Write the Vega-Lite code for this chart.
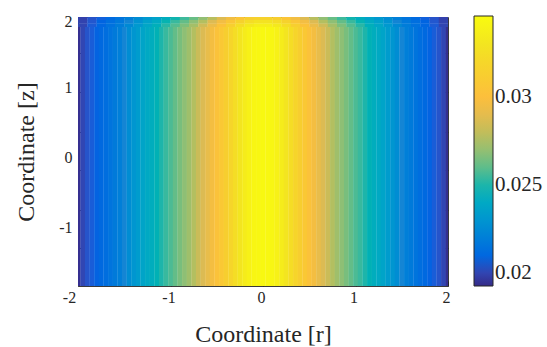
{
"$schema": "https://vega.github.io/schema/vega-lite/v6.json",
"width": 370, "height": 269,
"autosize": "none",
"padding": {"left": 78, "top": 17, "right": 99, "bottom": 61},
"background": "white",
"config": {
 "font": "Liberation Serif",
 "style": {"guide-label": {"font": "Liberation Serif", "fontSize": 16, "fill": "#262626"}, "guide-title": {"font": "Liberation Serif", "fontSize": 24, "fontWeight": "normal", "fill": "#262626"}},
 "view": {"stroke": "#3a3a3a", "strokeWidth": 1},
 "axis": {"labelFont": "Liberation Serif", "labelFontSize": 16, "labelColor": "#262626", "tickColor": "#262626", "tickWidth": 1, "domain": false, "grid": false, "titleFont": "Liberation Serif", "titleFontSize": 24, "titleFontWeight": "normal", "titleColor": "#262626"},
 "legend": {"orient": "none", "legendX": 396, "legendY": -1, "direction": "vertical", "gradientLength": 270, "gradientThickness": 19, "labelFont": "Liberation Serif", "labelFontSize": 21, "labelColor": "#262626", "labelOffset": 5, "gradientStrokeColor": "#262626", "gradientStrokeWidth": 1}
},
"datasets": {
"main": [
{"r":-2,"r2":-1.972,"z":-1.84,"z2":1.86,"v":0.01941},
{"r":-1.975,"r2":-1.922,"z":-1.84,"z2":1.86,"v":0.02003},
{"r":-1.925,"r2":-1.872,"z":-1.84,"z2":1.86,"v":0.02041},
{"r":-1.875,"r2":-1.822,"z":-1.84,"z2":1.86,"v":0.02064},
{"r":-1.825,"r2":-1.772,"z":-1.84,"z2":1.86,"v":0.02079},
{"r":-1.775,"r2":-1.722,"z":-1.84,"z2":1.86,"v":0.02102},
{"r":-1.725,"r2":-1.672,"z":-1.84,"z2":1.86,"v":0.02125},
{"r":-1.675,"r2":-1.622,"z":-1.84,"z2":1.86,"v":0.02148},
{"r":-1.625,"r2":-1.572,"z":-1.84,"z2":1.86,"v":0.02179},
{"r":-1.575,"r2":-1.522,"z":-1.84,"z2":1.86,"v":0.02202},
{"r":-1.525,"r2":-1.472,"z":-1.84,"z2":1.86,"v":0.02233},
{"r":-1.475,"r2":-1.422,"z":-1.84,"z2":1.86,"v":0.02263},
{"r":-1.425,"r2":-1.372,"z":-1.84,"z2":1.86,"v":0.02302},
{"r":-1.375,"r2":-1.322,"z":-1.84,"z2":1.86,"v":0.02333},
{"r":-1.325,"r2":-1.272,"z":-1.84,"z2":1.86,"v":0.02371},
{"r":-1.275,"r2":-1.222,"z":-1.84,"z2":1.86,"v":0.02402},
{"r":-1.225,"r2":-1.172,"z":-1.84,"z2":1.86,"v":0.02432},
{"r":-1.175,"r2":-1.122,"z":-1.84,"z2":1.86,"v":0.02463},
{"r":-1.125,"r2":-1.072,"z":-1.84,"z2":1.86,"v":0.02501},
{"r":-1.075,"r2":-1.022,"z":-1.84,"z2":1.86,"v":0.0254},
{"r":-1.025,"r2":-0.972,"z":-1.84,"z2":1.86,"v":0.0257},
{"r":-0.975,"r2":-0.922,"z":-1.84,"z2":1.86,"v":0.02609},
{"r":-0.925,"r2":-0.872,"z":-1.84,"z2":1.86,"v":0.02647},
{"r":-0.875,"r2":-0.822,"z":-1.84,"z2":1.86,"v":0.02685},
{"r":-0.825,"r2":-0.772,"z":-1.84,"z2":1.86,"v":0.02724},
{"r":-0.775,"r2":-0.722,"z":-1.84,"z2":1.86,"v":0.0277},
{"r":-0.725,"r2":-0.672,"z":-1.84,"z2":1.86,"v":0.02816},
{"r":-0.675,"r2":-0.622,"z":-1.84,"z2":1.86,"v":0.02862},
{"r":-0.625,"r2":-0.572,"z":-1.84,"z2":1.86,"v":0.02915},
{"r":-0.575,"r2":-0.522,"z":-1.84,"z2":1.86,"v":0.02969},
{"r":-0.525,"r2":-0.472,"z":-1.84,"z2":1.86,"v":0.03023},
{"r":-0.475,"r2":-0.422,"z":-1.84,"z2":1.86,"v":0.03077},
{"r":-0.425,"r2":-0.372,"z":-1.84,"z2":1.86,"v":0.0313},
{"r":-0.375,"r2":-0.322,"z":-1.84,"z2":1.86,"v":0.03184},
{"r":-0.325,"r2":-0.272,"z":-1.84,"z2":1.86,"v":0.03245},
{"r":-0.275,"r2":-0.222,"z":-1.84,"z2":1.86,"v":0.03299},
{"r":-0.225,"r2":-0.172,"z":-1.84,"z2":1.86,"v":0.03353},
{"r":-0.175,"r2":-0.122,"z":-1.84,"z2":1.86,"v":0.03391},
{"r":-0.125,"r2":-0.072,"z":-1.84,"z2":1.86,"v":0.03422},
{"r":-0.075,"r2":-0.022,"z":-1.84,"z2":1.86,"v":0.03434},
{"r":-0.025,"r2":0.028,"z":-1.84,"z2":1.86,"v":0.03437},
{"r":0.025,"r2":0.078,"z":-1.84,"z2":1.86,"v":0.03434},
{"r":0.075,"r2":0.128,"z":-1.84,"z2":1.86,"v":0.03422},
{"r":0.125,"r2":0.178,"z":-1.84,"z2":1.86,"v":0.03391},
{"r":0.175,"r2":0.228,"z":-1.84,"z2":1.86,"v":0.03353},
{"r":0.225,"r2":0.278,"z":-1.84,"z2":1.86,"v":0.03299},
{"r":0.275,"r2":0.328,"z":-1.84,"z2":1.86,"v":0.03245},
{"r":0.325,"r2":0.378,"z":-1.84,"z2":1.86,"v":0.03184},
{"r":0.375,"r2":0.428,"z":-1.84,"z2":1.86,"v":0.0313},
{"r":0.425,"r2":0.478,"z":-1.84,"z2":1.86,"v":0.03077},
{"r":0.475,"r2":0.528,"z":-1.84,"z2":1.86,"v":0.03023},
{"r":0.525,"r2":0.578,"z":-1.84,"z2":1.86,"v":0.02969},
{"r":0.575,"r2":0.628,"z":-1.84,"z2":1.86,"v":0.02915},
{"r":0.625,"r2":0.678,"z":-1.84,"z2":1.86,"v":0.02862},
{"r":0.675,"r2":0.728,"z":-1.84,"z2":1.86,"v":0.02816},
{"r":0.725,"r2":0.778,"z":-1.84,"z2":1.86,"v":0.0277},
{"r":0.775,"r2":0.828,"z":-1.84,"z2":1.86,"v":0.02724},
{"r":0.825,"r2":0.878,"z":-1.84,"z2":1.86,"v":0.02685},
{"r":0.875,"r2":0.928,"z":-1.84,"z2":1.86,"v":0.02647},
{"r":0.925,"r2":0.978,"z":-1.84,"z2":1.86,"v":0.02609},
{"r":0.975,"r2":1.028,"z":-1.84,"z2":1.86,"v":0.0257},
{"r":1.025,"r2":1.078,"z":-1.84,"z2":1.86,"v":0.0254},
{"r":1.075,"r2":1.128,"z":-1.84,"z2":1.86,"v":0.02501},
{"r":1.125,"r2":1.178,"z":-1.84,"z2":1.86,"v":0.02463},
{"r":1.175,"r2":1.228,"z":-1.84,"z2":1.86,"v":0.02432},
{"r":1.225,"r2":1.278,"z":-1.84,"z2":1.86,"v":0.02402},
{"r":1.275,"r2":1.328,"z":-1.84,"z2":1.86,"v":0.02371},
{"r":1.325,"r2":1.378,"z":-1.84,"z2":1.86,"v":0.02333},
{"r":1.375,"r2":1.428,"z":-1.84,"z2":1.86,"v":0.02302},
{"r":1.425,"r2":1.478,"z":-1.84,"z2":1.86,"v":0.02263},
{"r":1.475,"r2":1.528,"z":-1.84,"z2":1.86,"v":0.02233},
{"r":1.525,"r2":1.578,"z":-1.84,"z2":1.86,"v":0.02202},
{"r":1.575,"r2":1.628,"z":-1.84,"z2":1.86,"v":0.02179},
{"r":1.625,"r2":1.678,"z":-1.84,"z2":1.86,"v":0.02148},
{"r":1.675,"r2":1.728,"z":-1.84,"z2":1.86,"v":0.02125},
{"r":1.725,"r2":1.778,"z":-1.84,"z2":1.86,"v":0.02102},
{"r":1.775,"r2":1.828,"z":-1.84,"z2":1.86,"v":0.02079},
{"r":1.825,"r2":1.878,"z":-1.84,"z2":1.86,"v":0.02064},
{"r":1.875,"r2":1.928,"z":-1.84,"z2":1.86,"v":0.02041},
{"r":1.925,"r2":1.978,"z":-1.84,"z2":1.86,"v":0.02003},
{"r":1.975,"r2":2,"z":-1.84,"z2":1.86,"v":0.01941}
],
"top": [
{"r":-2,"r2":-1.897,"z":1.953,"z2":2,"v":0.01989},
{"r":-1.9,"r2":-1.797,"z":1.953,"z2":2,"v":0.02039},
{"r":-1.8,"r2":-1.697,"z":1.953,"z2":2,"v":0.02071},
{"r":-1.7,"r2":-1.597,"z":1.953,"z2":2,"v":0.02108},
{"r":-1.6,"r2":-1.497,"z":1.953,"z2":2,"v":0.02152},
{"r":-1.5,"r2":-1.397,"z":1.953,"z2":2,"v":0.02203},
{"r":-1.4,"r2":-1.297,"z":1.953,"z2":2,"v":0.02259},
{"r":-1.3,"r2":-1.197,"z":1.953,"z2":2,"v":0.02316},
{"r":-1.2,"r2":-1.097,"z":1.953,"z2":2,"v":0.02366},
{"r":-1.1,"r2":-0.997,"z":1.953,"z2":2,"v":0.02429},
{"r":-1.0,"r2":-0.897,"z":1.953,"z2":2,"v":0.02486},
{"r":-0.9,"r2":-0.797,"z":1.953,"z2":2,"v":0.02549},
{"r":-0.8,"r2":-0.697,"z":1.953,"z2":2,"v":0.02618},
{"r":-0.7,"r2":-0.597,"z":1.953,"z2":2,"v":0.02693},
{"r":-0.6,"r2":-0.497,"z":1.953,"z2":2,"v":0.02781},
{"r":-0.5,"r2":-0.397,"z":1.953,"z2":2,"v":0.02869},
{"r":-0.4,"r2":-0.297,"z":1.953,"z2":2,"v":0.02957},
{"r":-0.3,"r2":-0.197,"z":1.953,"z2":2,"v":0.03052},
{"r":-0.2,"r2":-0.097,"z":1.953,"z2":2,"v":0.03127},
{"r":-0.1,"r2":0.003,"z":1.953,"z2":2,"v":0.03163},
{"r":0,"r2":0.103,"z":1.953,"z2":2,"v":0.03163},
{"r":0.1,"r2":0.203,"z":1.953,"z2":2,"v":0.03127},
{"r":0.2,"r2":0.303,"z":1.953,"z2":2,"v":0.03052},
{"r":0.3,"r2":0.403,"z":1.953,"z2":2,"v":0.02957},
{"r":0.4,"r2":0.503,"z":1.953,"z2":2,"v":0.02869},
{"r":0.5,"r2":0.603,"z":1.953,"z2":2,"v":0.02781},
{"r":0.6,"r2":0.703,"z":1.953,"z2":2,"v":0.02693},
{"r":0.7,"r2":0.803,"z":1.953,"z2":2,"v":0.02618},
{"r":0.8,"r2":0.903,"z":1.953,"z2":2,"v":0.02549},
{"r":0.9,"r2":1.003,"z":1.953,"z2":2,"v":0.02486},
{"r":1.0,"r2":1.103,"z":1.953,"z2":2,"v":0.02429},
{"r":1.1,"r2":1.203,"z":1.953,"z2":2,"v":0.02366},
{"r":1.2,"r2":1.303,"z":1.953,"z2":2,"v":0.02316},
{"r":1.3,"r2":1.403,"z":1.953,"z2":2,"v":0.02259},
{"r":1.4,"r2":1.503,"z":1.953,"z2":2,"v":0.02203},
{"r":1.5,"r2":1.603,"z":1.953,"z2":2,"v":0.02152},
{"r":1.6,"r2":1.703,"z":1.953,"z2":2,"v":0.02108},
{"r":1.7,"r2":1.803,"z":1.953,"z2":2,"v":0.02071},
{"r":1.8,"r2":1.903,"z":1.953,"z2":2,"v":0.02039},
{"r":1.9,"r2":2,"z":1.953,"z2":2,"v":0.01989},
{"r":-2,"r2":-1.897,"z":1.903,"z2":1.957,"v":0.01995},
{"r":-1.9,"r2":-1.797,"z":1.903,"z2":1.957,"v":0.0205},
{"r":-1.8,"r2":-1.697,"z":1.903,"z2":1.957,"v":0.02085},
{"r":-1.7,"r2":-1.597,"z":1.903,"z2":1.957,"v":0.02126},
{"r":-1.6,"r2":-1.497,"z":1.903,"z2":1.957,"v":0.02175},
{"r":-1.5,"r2":-1.397,"z":1.903,"z2":1.957,"v":0.0223},
{"r":-1.4,"r2":-1.297,"z":1.903,"z2":1.957,"v":0.02292},
{"r":-1.3,"r2":-1.197,"z":1.903,"z2":1.957,"v":0.02354},
{"r":-1.2,"r2":-1.097,"z":1.903,"z2":1.957,"v":0.02409},
{"r":-1.1,"r2":-0.997,"z":1.903,"z2":1.957,"v":0.02478},
{"r":-1.0,"r2":-0.897,"z":1.903,"z2":1.957,"v":0.0254},
{"r":-0.9,"r2":-0.797,"z":1.903,"z2":1.957,"v":0.02609},
{"r":-0.8,"r2":-0.697,"z":1.903,"z2":1.957,"v":0.02685},
{"r":-0.7,"r2":-0.597,"z":1.903,"z2":1.957,"v":0.02768},
{"r":-0.6,"r2":-0.497,"z":1.903,"z2":1.957,"v":0.02865},
{"r":-0.5,"r2":-0.397,"z":1.903,"z2":1.957,"v":0.02961},
{"r":-0.4,"r2":-0.297,"z":1.903,"z2":1.957,"v":0.03058},
{"r":-0.3,"r2":-0.197,"z":1.903,"z2":1.957,"v":0.03162},
{"r":-0.2,"r2":-0.097,"z":1.903,"z2":1.957,"v":0.03244},
{"r":-0.1,"r2":0.003,"z":1.903,"z2":1.957,"v":0.03283},
{"r":0,"r2":0.103,"z":1.903,"z2":1.957,"v":0.03283},
{"r":0.1,"r2":0.203,"z":1.903,"z2":1.957,"v":0.03244},
{"r":0.2,"r2":0.303,"z":1.903,"z2":1.957,"v":0.03162},
{"r":0.3,"r2":0.403,"z":1.903,"z2":1.957,"v":0.03058},
{"r":0.4,"r2":0.503,"z":1.903,"z2":1.957,"v":0.02961},
{"r":0.5,"r2":0.603,"z":1.903,"z2":1.957,"v":0.02865},
{"r":0.6,"r2":0.703,"z":1.903,"z2":1.957,"v":0.02768},
{"r":0.7,"r2":0.803,"z":1.903,"z2":1.957,"v":0.02685},
{"r":0.8,"r2":0.903,"z":1.903,"z2":1.957,"v":0.02609},
{"r":0.9,"r2":1.003,"z":1.903,"z2":1.957,"v":0.0254},
{"r":1.0,"r2":1.103,"z":1.903,"z2":1.957,"v":0.02478},
{"r":1.1,"r2":1.203,"z":1.903,"z2":1.957,"v":0.02409},
{"r":1.2,"r2":1.303,"z":1.903,"z2":1.957,"v":0.02354},
{"r":1.3,"r2":1.403,"z":1.903,"z2":1.957,"v":0.02292},
{"r":1.4,"r2":1.503,"z":1.903,"z2":1.957,"v":0.0223},
{"r":1.5,"r2":1.603,"z":1.903,"z2":1.957,"v":0.02175},
{"r":1.6,"r2":1.703,"z":1.903,"z2":1.957,"v":0.02126},
{"r":1.7,"r2":1.803,"z":1.903,"z2":1.957,"v":0.02085},
{"r":1.8,"r2":1.903,"z":1.903,"z2":1.957,"v":0.0205},
{"r":1.9,"r2":2,"z":1.903,"z2":1.957,"v":0.01995},
{"r":-2,"r2":-1.897,"z":1.857,"z2":1.907,"v":0.02},
{"r":-1.9,"r2":-1.797,"z":1.857,"z2":1.907,"v":0.02059},
{"r":-1.8,"r2":-1.697,"z":1.857,"z2":1.907,"v":0.02095},
{"r":-1.7,"r2":-1.597,"z":1.857,"z2":1.907,"v":0.0214},
{"r":-1.6,"r2":-1.497,"z":1.857,"z2":1.907,"v":0.02191},
{"r":-1.5,"r2":-1.397,"z":1.857,"z2":1.907,"v":0.0225},
{"r":-1.4,"r2":-1.297,"z":1.857,"z2":1.907,"v":0.02316},
{"r":-1.3,"r2":-1.197,"z":1.857,"z2":1.907,"v":0.02383},
{"r":-1.2,"r2":-1.097,"z":1.857,"z2":1.907,"v":0.02441},
{"r":-1.1,"r2":-0.997,"z":1.857,"z2":1.907,"v":0.02515},
{"r":-1.0,"r2":-0.897,"z":1.857,"z2":1.907,"v":0.02581},
{"r":-0.9,"r2":-0.797,"z":1.857,"z2":1.907,"v":0.02655},
{"r":-0.8,"r2":-0.697,"z":1.857,"z2":1.907,"v":0.02736},
{"r":-0.7,"r2":-0.597,"z":1.857,"z2":1.907,"v":0.02824},
{"r":-0.6,"r2":-0.497,"z":1.857,"z2":1.907,"v":0.02927},
{"r":-0.5,"r2":-0.397,"z":1.857,"z2":1.907,"v":0.0303},
{"r":-0.4,"r2":-0.297,"z":1.857,"z2":1.907,"v":0.03134},
{"r":-0.3,"r2":-0.197,"z":1.857,"z2":1.907,"v":0.03244},
{"r":-0.2,"r2":-0.097,"z":1.857,"z2":1.907,"v":0.03332},
{"r":-0.1,"r2":0.003,"z":1.857,"z2":1.907,"v":0.03374},
{"r":0,"r2":0.103,"z":1.857,"z2":1.907,"v":0.03374},
{"r":0.1,"r2":0.203,"z":1.857,"z2":1.907,"v":0.03332},
{"r":0.2,"r2":0.303,"z":1.857,"z2":1.907,"v":0.03244},
{"r":0.3,"r2":0.403,"z":1.857,"z2":1.907,"v":0.03134},
{"r":0.4,"r2":0.503,"z":1.857,"z2":1.907,"v":0.0303},
{"r":0.5,"r2":0.603,"z":1.857,"z2":1.907,"v":0.02927},
{"r":0.6,"r2":0.703,"z":1.857,"z2":1.907,"v":0.02824},
{"r":0.7,"r2":0.803,"z":1.857,"z2":1.907,"v":0.02736},
{"r":0.8,"r2":0.903,"z":1.857,"z2":1.907,"v":0.02655},
{"r":0.9,"r2":1.003,"z":1.857,"z2":1.907,"v":0.02581},
{"r":1.0,"r2":1.103,"z":1.857,"z2":1.907,"v":0.02515},
{"r":1.1,"r2":1.203,"z":1.857,"z2":1.907,"v":0.02441},
{"r":1.2,"r2":1.303,"z":1.857,"z2":1.907,"v":0.02383},
{"r":1.3,"r2":1.403,"z":1.857,"z2":1.907,"v":0.02316},
{"r":1.4,"r2":1.503,"z":1.857,"z2":1.907,"v":0.0225},
{"r":1.5,"r2":1.603,"z":1.857,"z2":1.907,"v":0.02191},
{"r":1.6,"r2":1.703,"z":1.857,"z2":1.907,"v":0.0214},
{"r":1.7,"r2":1.803,"z":1.857,"z2":1.907,"v":0.02095},
{"r":1.8,"r2":1.903,"z":1.857,"z2":1.907,"v":0.02059},
{"r":1.9,"r2":2,"z":1.857,"z2":1.907,"v":0.02}
]
},
"layer": [
{
 "data": {"name": "main"},
 "mark": {"type": "rect"},
 "encoding": {
  "x": {"field": "r", "type": "quantitative", "scale": {"domain": [-2, 2], "nice": false, "zero": false},
   "axis": {"orient": "bottom", "values": [-2, -1, 0, 1, 2], "labelExpr": "'' + datum.value", "tickSize": -5, "labelPadding": 8, "labelFlush": false,
    "labelFont": "Liberation Serif", "labelFontSize": 16, "labelColor": "#262626",
    "labelOffset": {"condition": {"test": "datum.value === -2", "value": -9}, "value": -2},
    "title": "Coordinate [r]", "titlePadding": 17}},
  "x2": {"field": "r2"},
  "y": {"field": "z", "type": "quantitative", "scale": {"domain": [-1.84, 2], "nice": false, "zero": false},
   "axis": {"orient": "left", "values": [2, 1.49, 1, 0.93, 0.36, 0, -0.18, -0.76, -1, -1.3], "labelExpr": "datum.value % 1 === 0 ? '' + datum.value : ''", "tickSize": -5, "tickOpacity": {"condition": {"test": "datum.value % 1 === 0", "value": 0}, "value": 1}, "labelPadding": 11,
    "labelFont": "Liberation Serif", "labelFontSize": 16, "labelColor": "#262626",
    "labelOffset": {"condition": {"test": "datum.value === 2", "value": 4}, "value": 0},
    "title": "Coordinate [z]", "titlePadding": 20}},
  "y2": {"field": "z2"},
  "color": {"field": "v", "type": "quantitative",
   "scale": {"type": "linear", "domain": [0.01926, 0.020794, 0.022328, 0.023862, 0.025396, 0.02693, 0.028464, 0.029998, 0.031532, 0.033066, 0.0346], "range": ["#352a87", "#0363e1", "#1485d4", "#06a7c6", "#38b99e", "#92bf73", "#d9ba56", "#fcbf3c", "#f6d12d", "#f3e61f", "#f9fb0e"]},
   "legend": {"type": "gradient", "values": [0.02, 0.025, 0.03], "format": ".3~f", "title": null, "labelFont": "Liberation Serif", "labelFontSize": 21}}
 }
},
{
 "data": {"name": "top"},
 "mark": {"type": "rect"},
 "encoding": {
  "x": {"field": "r", "type": "quantitative", "axis": {"orient": "top", "values": [-1, 0, 1], "labels": false, "tickSize": -5, "title": null}},
  "x2": {"field": "r2"},
  "y": {"field": "z", "type": "quantitative", "axis": {"orient": "right", "values": [1.49, 0.93, 0.36, -0.18, -0.76, -1.3], "labels": false, "tickSize": -5, "title": null}},
  "y2": {"field": "z2"},
  "color": {"field": "v", "type": "quantitative"}
 }
}
],
"resolve": {"axis": {"x": "independent", "y": "independent"}}
}
